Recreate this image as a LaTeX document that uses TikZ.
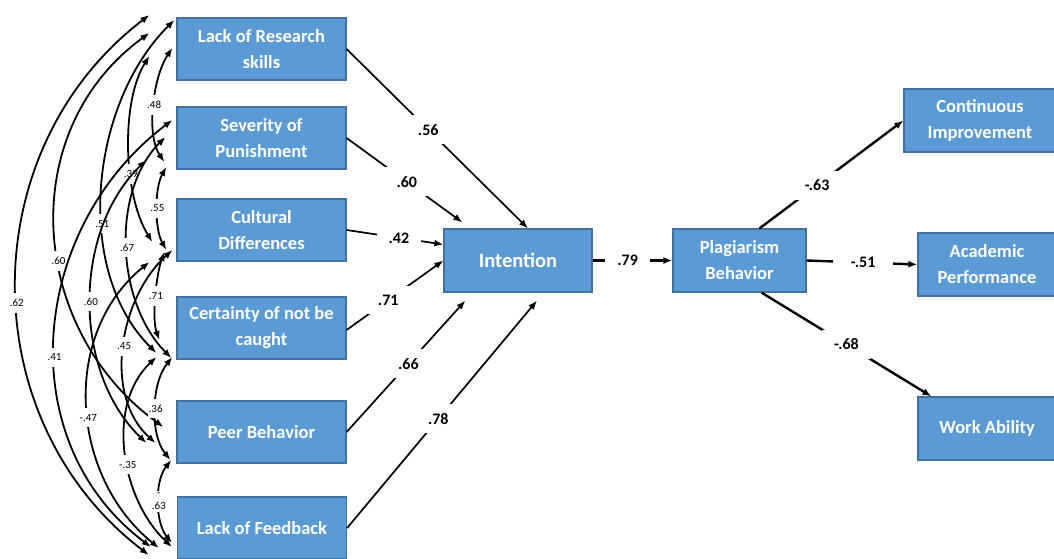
\documentclass[tikz,border=0pt]{standalone}
\usepackage{fontspec}
\setmainfont{Carlito}
\usetikzlibrary{arrows.meta}
\definecolor{boxBlue}{HTML}{5B9BD5}
\definecolor{boxEdge}{HTML}{41719C}
\newcommand{\boxFont}{\fontsize{18.5}{26}\selectfont\bfseries}
\newcommand{\weightFont}{\fontsize{16}{18}\selectfont\bfseries}
\newcommand{\corrFont}{\fontsize{11}{13}\selectfont}

\begin{document}
\begin{tikzpicture}[x=1pt, y=-1pt, >={Latex[length=9pt,width=7pt]},
  factor/.style={draw=boxEdge, line width=1.2pt, fill=boxBlue, text=white, font=\boxFont, align=center, inner sep=0pt, minimum width=169pt, minimum height=62pt},
  effect/.style={->, line width=1.7pt},
  weight/.style={fill=white, inner xsep=12pt, inner ysep=9pt, font=\weightFont},
  cov/.style={<->, line width=1.8pt},
  covlab/.style={fill=white, inner xsep=1pt, inner ysep=6pt, font=\corrFont, align=center}]
\useasboundingbox (0,0) rectangle (1054,559);
\node[factor] (res) at (261.5,49) {Lack of Research\\skills};
\node[factor] (sev) at (261.5,138) {Severity of\\Punishment};
\node[factor] (cul) at (261.5,230) {Cultural\\Differences};
\node[factor] (cer) at (261.5,328) {Certainty of not be\\caught};
\node[factor] (peer) at (261.5,432) {Peer Behavior};
\node[factor] (feed) at (262,528) {Lack of Feedback};
\node[factor, minimum width=148pt, minimum height=63pt, font=\fontsize{20.5}{26}\selectfont\bfseries] (int) at (518,260.5) {Intention};
\node[factor, minimum width=133pt, minimum height=63pt] (plag) at (739.5,260.5) {Plagiarism\\Behavior};
\node[factor, minimum width=152pt, minimum height=63pt] (cont) at (980,120.5) {Continuous\\Improvement};
\node[factor, minimum width=138pt, minimum height=63pt] (acad) at (987,264.5) {Academic\\Performance};
\node[factor, minimum width=138pt, minimum height=63pt] (work) at (987,428.5) {Work Ability};
\draw[cov] ([shift={(-4,-1)}]res.west) .. controls +(-19,28) and +(-19,-28) .. ([shift={(-12,24)}]sev.west) node[covlab, midway] {.48};
\draw[cov] ([shift={(-27,7)}]res.west) .. controls +(-29,46) and +(-29,-46) .. ([shift={(-24,12)}]cul.west) node[covlab, pos=0.62] {.39};
\draw[cov] ([shift={(-2,-29)}]res.west) .. controls +(-84,83) and +(-84,-83) .. ([shift={(-20,25)}]cer.west) node[covlab, pos=0.6] {.51};
\draw[cov] ([shift={(-27,-16)}]res.west) .. controls +(-135,98) and +(-135,-98) .. ([shift={(-13,-5)}]peer.west) node[covlab, pos=0.57] {.60};
\draw[cov] ([shift={(-27,-34)}]res.west) .. controls +(-177,135) and +(-177,-135) .. ([shift={(-28,27)}]feed.west) node[covlab, pos=0.53] {.62};
\draw[cov] ([shift={(-10,29)}]sev.west) .. controls +(-12,21) and +(-12,-21) .. ([shift={(-10,20)}]cul.west) node[covlab, midway] {.55};
\draw[cov] ([shift={(-11,-1)}]sev.west) .. controls +(-55,55) and +(-55,-55) .. ([shift={(-5,30)}]cer.west) node[covlab, midway] {.67};
\draw[cov] ([shift={(-30,22)}]sev.west) .. controls +(-74,71) and +(-74,-71) .. ([shift={(-30,11)}]peer.west) node[covlab, midway] {.60};
\draw[cov] ([shift={(-4,-18)}]sev.west) .. controls +(-142,107) and +(-142,-107) .. ([shift={(-26,19)}]feed.west) node[covlab, pos=0.55] {.41};
\draw[cov] ([shift={(-12,22)}]cul.west) .. controls +(-8,22) and +(-8,-22) .. ([shift={(-17,12)}]cer.west) node[covlab, midway] {.71};
\draw[cov] ([shift={(-4,20)}]cul.west) .. controls +(-53,48) and +(-53,-48) .. ([shift={(-21,11)}]peer.west) node[covlab, midway] {.45};
\draw[cov] ([shift={(-27,32)}]cul.west) .. controls +(-89,72) and +(-89,-72) .. ([shift={(-18,20)}]feed.west) node[covlab, pos=0.54] {-.47};
\draw[cov] ([shift={(-4,29)}]cer.west) .. controls +(-21,26) and +(-21,-26) .. ([shift={(-6,28)}]peer.west) node[covlab, midway] {.36};
\draw[cov] ([shift={(-20,29)}]cer.west) .. controls +(-51,48) and +(-51,-48) .. ([shift={(-5,19)}]feed.west) node[covlab, pos=0.56] {-.35};
\draw[cov] ([shift={(-5,28)}]peer.west) .. controls +(-17,21) and +(-17,-21) .. ([shift={(-5,15)}]feed.west) node[covlab, midway, inner ysep=2pt] {-\\.63};
\draw[effect] (res.east) -- node[weight, pos=0.45] {.56} ([xshift=10pt]int.north);
\draw[effect] (sev.east) -- node[weight, pos=0.52] {.60} ([xshift=19pt,yshift=6pt]int.north west);
\draw[effect] (cul.east) -- node[weight, pos=0.54] {.42} ([yshift=16pt]int.west);
\draw[effect] ([yshift=-2pt]cer.east) -- node[weight, pos=0.43] {.71} (int.west);
\draw[effect] (peer.east) -- node[weight, pos=0.52] {.66} ([xshift=22pt,yshift=-8pt]int.south west);
\draw[effect] (feed.east) -- node[weight, pos=0.48] {.78} ([xshift=19pt,yshift=-8pt]int.south);
\draw[effect, line width=2.4pt] (int.east) -- node[weight, pos=0.44] {.79} (plag.west);
\draw[effect, line width=2.4pt] ([xshift=20pt]plag.north) -- node[weight, pos=0.4] {-.63} (cont.west);
\draw[effect, line width=2.4pt] (plag.east) -- node[weight, pos=0.51, inner xsep=18pt] {-.51} (acad.west);
\draw[effect, line width=2.4pt] ([xshift=22pt]plag.south) -- node[weight, pos=0.5] {-.68} ([xshift=14pt]work.north west);
\end{tikzpicture}
\end{document}
